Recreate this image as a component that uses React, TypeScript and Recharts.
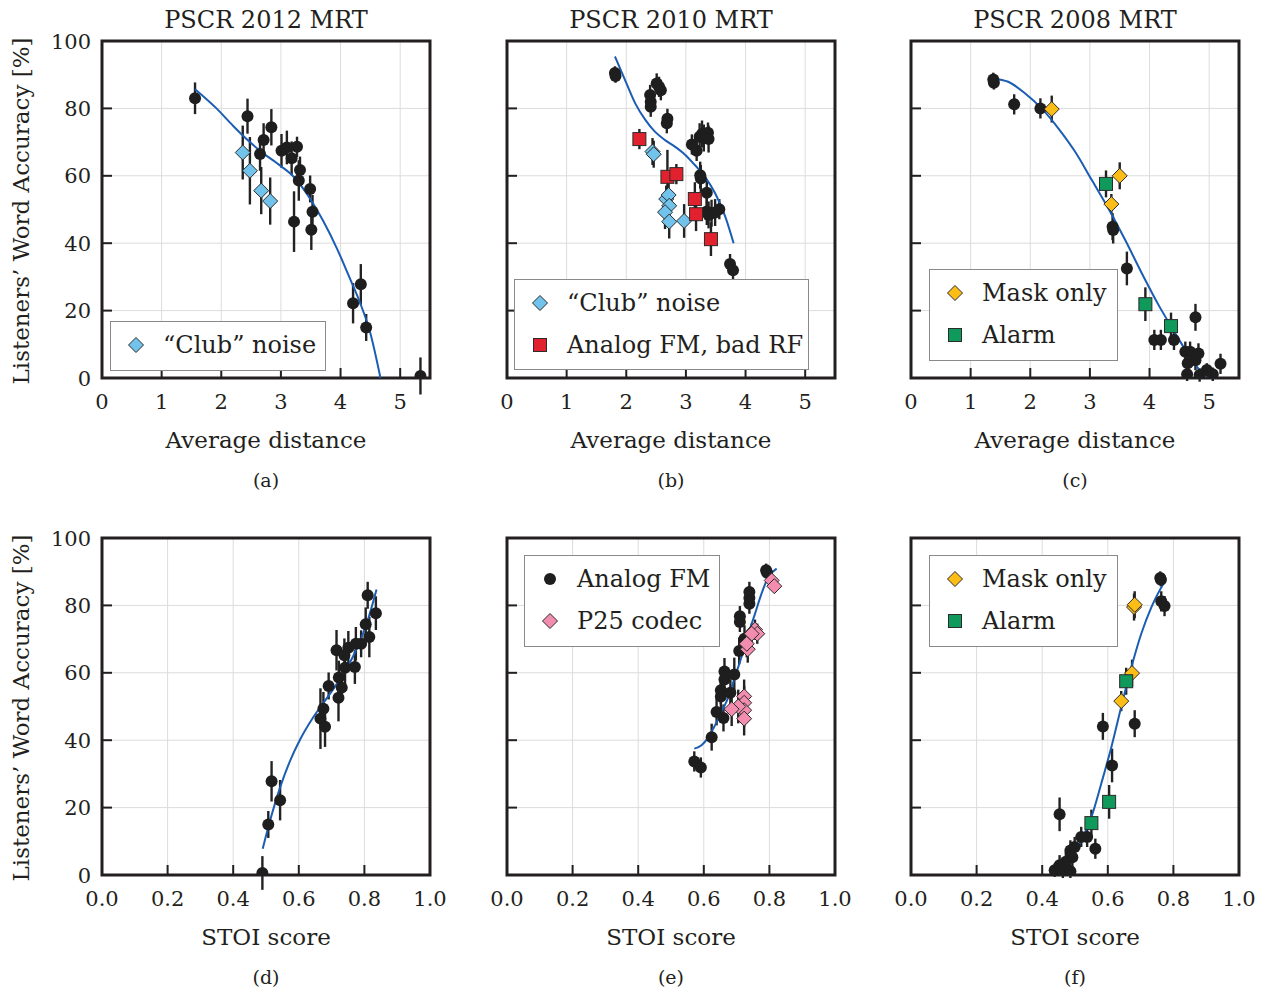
import React from "react";
import {
  CartesianGrid,
  ComposedChart,
  ErrorBar,
  Legend,
  Line,
  ReferenceArea,
  Scatter,
  XAxis,
  YAxis,
} from "recharts";

// [x, y, error half-length]
type Pt = [number, number, number];
type Fit = [number, number];

// (a) PSCR 2012 MRT, average distance
const aAnalog: Pt[] = [
  [1.56, 83.0, 4.7], [2.44, 77.7, 5.2], [2.84, 74.4, 5.4], [2.71, 70.6, 5.0],
  [2.65, 66.5, 5.0], [3.01, 67.4, 5.0], [3.1, 68.4, 5.0], [3.27, 68.6, 3.0],
  [3.18, 65.2, 5.0], [3.32, 61.7, 4.0], [3.3, 58.6, 6.0], [3.49, 56.1, 4.0],
  [3.53, 49.3, 5.0], [3.51, 44.0, 6.0], [3.22, 46.4, 9.0], [4.21, 22.2, 6.0],
  [4.34, 27.8, 6.0], [4.43, 15.0, 4.0], [5.34, 0.6, 5.5],
];
const aClub: Pt[] = [
  [2.36, 66.9, 8], [2.48, 61.5, 10], [2.67, 55.6, 7], [2.82, 52.5, 7],
];
const aFit: Fit[] = [
  [1.56, 85.7], [1.92, 80.0], [2.2, 74.8], [2.48, 70.0], [2.65, 67.4],
  [2.99, 63.0], [3.21, 59.8], [3.49, 53.2], [3.71, 46.6], [3.94, 38.4],
  [4.16, 29.4], [4.33, 22.2], [4.5, 13.3], [4.67, 0],
];

// (b) PSCR 2010 MRT, average distance
const bAnalog: Pt[] = [
  [1.81, 90.5, 2], [1.82, 89.6, 2], [2.51, 87.4, 3], [2.55, 86.4, 3],
  [2.58, 85.4, 3], [2.4, 84.0, 3], [2.41, 82.0, 3], [2.41, 80.5, 3],
  [2.69, 76.9, 3], [2.68, 75.6, 3], [3.1, 69.3, 3], [3.18, 67.4, 3],
  [3.23, 71.6, 4], [3.27, 72.4, 4], [3.37, 72.8, 3], [3.38, 70.9, 4],
  [3.3, 71.2, 4], [3.24, 60.2, 4], [3.25, 59.2, 4], [3.35, 55.0, 4],
  [3.35, 49.4, 4], [3.43, 48.9, 4], [3.49, 49.1, 4], [3.56, 50.1, 3],
  [3.38, 48.4, 4], [3.74, 33.8, 3], [3.79, 32.0, 3],
];
const bClub: Pt[] = [
  [2.44, 67.2, 4], [2.46, 66.4, 4], [2.67, 53.1, 4], [2.71, 54.3, 4],
  [2.72, 51.1, 5], [2.65, 49.2, 5], [2.72, 46.4, 5], [2.97, 46.6, 5],
];
const bBadRf: Pt[] = [
  [2.22, 70.9, 3], [2.69, 59.7, 8], [2.84, 60.5, 3], [3.15, 53.1, 5],
  [3.17, 48.6, 5], [3.42, 41.2, 5],
];
const bFit: Fit[] = [
  [1.81, 95.4], [1.98, 88.4], [2.15, 81.5], [2.32, 76.6], [2.48, 73.1],
  [2.65, 70.6], [2.82, 68.6], [2.99, 66.2], [3.15, 63.2], [3.32, 59.7],
  [3.49, 54.8], [3.66, 47.9], [3.8, 40.0],
];

// (c) PSCR 2008 MRT, average distance
const cAnalog: Pt[] = [
  [1.38, 88.6, 2], [1.39, 87.6, 2], [1.73, 81.2, 3], [2.17, 80.0, 3],
  [3.38, 44.9, 4], [3.39, 43.9, 4], [3.62, 32.5, 5], [4.08, 11.3, 3],
  [4.19, 11.3, 3], [4.41, 11.3, 3], [4.77, 18.0, 4], [4.6, 7.8, 3],
  [4.68, 7.8, 3], [4.82, 7.3, 3], [4.64, 4.4, 3], [4.77, 5.3, 3],
  [4.63, 1.1, 2], [4.84, 0.9, 2], [4.96, 2.4, 2], [5.06, 1.1, 2],
  [5.19, 4.2, 3],
];
const cMask: Pt[] = [[2.36, 79.8, 4], [3.5, 60.0, 4], [3.36, 51.6, 3]];
const cAlarm: Pt[] = [[3.27, 57.6, 4], [3.93, 21.9, 5], [4.36, 15.4, 4]];
const cFit: Fit[] = [
  [1.38, 88.9], [1.63, 87.9], [1.91, 84.5], [2.19, 80.0], [2.47, 74.1],
  [2.75, 67.2], [3.03, 58.8], [3.31, 50.3], [3.59, 41.0], [3.87, 31.1],
  [4.15, 21.7], [4.43, 13.3], [4.71, 5.3], [4.94, 0.2],
];

// (d) PSCR 2012 MRT, STOI
const dAnalog: Pt[] = [
  [0.489, 0.6, 5], [0.507, 15.0, 4], [0.517, 27.8, 6], [0.543, 22.2, 6],
  [0.666, 46.4, 9], [0.675, 49.3, 5], [0.68, 44.0, 6], [0.691, 56.1, 4],
  [0.715, 66.7, 6], [0.722, 58.6, 5], [0.721, 52.6, 7], [0.731, 55.6, 4],
  [0.739, 65.2, 5], [0.741, 61.5, 5], [0.751, 67.4, 5], [0.771, 61.7, 5],
  [0.774, 68.6, 5], [0.79, 68.6, 4], [0.804, 74.4, 5], [0.815, 70.6, 6],
  [0.81, 83.0, 4], [0.835, 77.7, 5],
];
const dFit: Fit[] = [
  [0.49, 7.8], [0.512, 16.0], [0.543, 26.0], [0.573, 33.8], [0.604, 40.2],
  [0.644, 46.8], [0.685, 52.4], [0.726, 58.2], [0.766, 65.0], [0.807, 74.6],
  [0.837, 84.7],
];

// (e) PSCR 2010 MRT, STOI
const eAnalog: Pt[] = [
  [0.571, 33.7, 3], [0.591, 31.9, 3], [0.624, 40.9, 4], [0.639, 48.4, 4],
  [0.66, 46.6, 4], [0.652, 53.0, 4], [0.652, 54.8, 4], [0.663, 58.0, 4],
  [0.663, 60.4, 4], [0.681, 54.1, 4], [0.693, 59.5, 5], [0.708, 66.5, 4],
  [0.724, 70.1, 4], [0.71, 76.8, 3], [0.71, 75.1, 3], [0.739, 80.5, 3],
  [0.739, 82.2, 3], [0.739, 84.0, 3], [0.79, 90.4, 2], [0.793, 89.7, 2],
];
const eP25: Pt[] = [
  [0.807, 87.4, 2], [0.815, 85.7, 2], [0.756, 72.8, 3], [0.763, 71.6, 3],
  [0.746, 71.6, 3], [0.734, 67.0, 4], [0.731, 68.6, 4], [0.723, 53.0, 5],
  [0.723, 51.1, 5], [0.723, 48.9, 5], [0.723, 46.4, 5], [0.705, 50.0, 5],
  [0.685, 49.2, 5],
];
const eFit: Fit[] = [
  [0.571, 37.5], [0.593, 38.5], [0.614, 40.9], [0.634, 44.4], [0.654, 48.4],
  [0.675, 52.8], [0.695, 58.8], [0.715, 64.7], [0.736, 71.6], [0.756, 77.5],
  [0.776, 83.5], [0.797, 88.4], [0.822, 90.9],
];

// (f) PSCR 2008 MRT, STOI
const fAnalog: Pt[] = [
  [0.76, 88.1, 2], [0.762, 87.6, 2], [0.763, 81.2, 3], [0.773, 79.8, 3],
  [0.682, 44.9, 4], [0.585, 44.1, 4], [0.613, 32.5, 5], [0.453, 18.0, 5],
  [0.562, 7.8, 3], [0.537, 11.3, 3], [0.519, 11.3, 3], [0.499, 8.3, 3],
  [0.486, 7.3, 3], [0.492, 5.3, 3], [0.472, 3.9, 3], [0.453, 2.9, 3],
  [0.438, 1.4, 2], [0.463, 1.1, 2], [0.486, 1.1, 2],
];
const fMask: Pt[] = [[0.68, 79.5, 4], [0.682, 80.2, 4], [0.674, 59.9, 4], [0.641, 51.6, 3]];
const fAlarm: Pt[] = [[0.656, 57.5, 4], [0.604, 21.7, 5], [0.55, 15.4, 4]];
const fFit: Fit[] = [
  [0.433, 1.4], [0.458, 2.4], [0.489, 5.3], [0.519, 10.3], [0.55, 17.2],
  [0.58, 27.1], [0.611, 38.0], [0.641, 49.9], [0.672, 61.7], [0.702, 71.6],
  [0.733, 79.5], [0.775, 87.4],
];

const distTicks = [0, 1, 2, 3, 4, 5];
const stoiTicks = [0, 0.2, 0.4, 0.6, 0.8, 1.0];
const accTicks = [0, 20, 40, 60, 80, 100];

const FONT = "'DejaVu Serif', serif";
const INK = "#231f20";
const FIT = "#1c5db4";

// plot box size and chart margins around it
const PW = 328;
const PH = 337;
const ML = 100;
const MT = 40;
const MR = 20;
const MB = 60;

type Kind = "dot" | "diamond" | "square";
type Series = { name: string; pts: Pt[]; kind: Kind; fill: string };

const BLACK = "#1e1e1e";
const CLUB = "#72c3ec";
const BADRF = "#e2212f";
const MASK = "#fbbd16";
const ALARM = "#0f9a5b";
const P25 = "#f28db0";

function Marker({ kind, fill, cx, cy }: { kind: Kind; fill: string; cx: number; cy: number }) {
  if (kind === "dot") return <circle cx={cx} cy={cy} r={6} fill={fill} />;
  if (kind === "square")
    return <rect x={cx - 6.5} y={cy - 6.5} width={13} height={13} fill={fill} stroke="#2b2b2b" strokeWidth={1} />;
  const d = 7.5;
  return (
    <polygon
      points={`${cx},${cy - d} ${cx + d},${cy} ${cx},${cy + d} ${cx - d},${cy}`}
      fill={fill}
      stroke="#2b2b2b"
      strokeWidth={1}
    />
  );
}

function LegendBox({ items, w, h }: { items: Series[]; w: number; h: number }) {
  return (
    <div
      style={{
        position: "relative",
        width: w,
        height: h,
        boxSizing: "border-box",
        border: "1.5px solid #8a8a8a",
        background: "#fff",
      }}
    >
      {items.map((it, i) => (
        <div
          key={it.name}
          style={{ position: "absolute", left: 0, top: 24 + i * 42 - 17, height: 32, display: "flex", alignItems: "center" }}
        >
          <svg width={50} height={32}>
            <Marker kind={it.kind} fill={it.fill} cx={25} cy={16} />
          </svg>
          <span style={{ fontFamily: FONT, fontSize: 24, color: INK, whiteSpace: "nowrap", marginLeft: 2 }}>{it.name}</span>
        </div>
      ))}
    </div>
  );
}

function Text({ x, base, size, children }: { x: number; base: number; size: number; children: React.ReactNode }) {
  return (
    <div
      style={{
        position: "absolute",
        left: x,
        top: base - 0.846 * size,
        transform: "translateX(-50%)",
        fontFamily: FONT,
        fontSize: size,
        lineHeight: 1,
        color: INK,
        whiteSpace: "nowrap",
      }}
    >
      {children}
    </div>
  );
}

type PanelProps = {
  left: number;
  top: number;
  xMax: number;
  xTicks: number[];
  fmt: (v: number) => string;
  series: Series[];
  fit: Fit[];
  legend?: { x: number; y: number; w: number; h: number; items: Series[] };
  title?: string;
  xLabel: string;
  tag: string;
  yLabels: boolean;
};

function Panel({ left, top, xMax, xTicks, fmt, series, fit, legend, title, xLabel, tag, yLabels }: PanelProps) {
  const cx = left + PW / 2;
  const bottom = top + PH;
  return (
    <>
      <div style={{ position: "absolute", left: left - ML, top: top - MT }}>
        <ComposedChart width={ML + PW + MR} height={MT + PH + MB} margin={{ top: MT, right: MR, bottom: 0, left: 0 }}>
          <CartesianGrid stroke="#dcdcdc" strokeWidth={1} />
          <XAxis
            type="number"
            dataKey="x"
            domain={[0, xMax]}
            ticks={xTicks}
            interval={0}
            height={MB}
            tickSize={0}
            tickMargin={0}
            axisLine={false}
            tickLine={false}
            allowDataOverflow
            tick={(p: any) => (
              <g>
                <line x1={p.x} y1={p.y} x2={p.x} y2={p.y - 10} stroke={INK} strokeWidth={2} />
                <text x={p.x} y={p.y + 31} textAnchor="middle" fontFamily={FONT} fontSize={21} fill={INK}>
                  {fmt(p.payload.value)}
                </text>
              </g>
            )}
          />
          <XAxis
            xAxisId="t"
            orientation="top"
            type="number"
            domain={[0, xMax]}
            ticks={xTicks}
            interval={0}
            height={0}
            tickSize={0}
            tickMargin={0}
            axisLine={false}
            tickLine={false}
            tick={(p: any) => <line x1={p.x} y1={p.y} x2={p.x} y2={p.y + 10} stroke={INK} strokeWidth={2} />}
          />
          <YAxis
            type="number"
            dataKey="y"
            domain={[0, 100]}
            ticks={accTicks}
            interval={0}
            width={ML}
            tickSize={0}
            tickMargin={0}
            axisLine={false}
            tickLine={false}
            allowDataOverflow
            tick={(p: any) => (
              <g>
                <line x1={p.x} y1={p.y} x2={p.x + 10} y2={p.y} stroke={INK} strokeWidth={2} />
                {yLabels && (
                  <text x={p.x - 11} y={p.y + 7.5} textAnchor="end" fontFamily={FONT} fontSize={21} fill={INK}>
                    {p.payload.value}
                  </text>
                )}
              </g>
            )}
          />
          <YAxis
            yAxisId="r"
            orientation="right"
            type="number"
            domain={[0, 100]}
            ticks={accTicks}
            interval={0}
            width={0}
            tickSize={0}
            tickMargin={0}
            axisLine={false}
            tickLine={false}
            tick={(p: any) => <line x1={p.x} y1={p.y} x2={p.x - 10} y2={p.y} stroke={INK} strokeWidth={2} />}
          />
          {series.map((s) => (
            <Scatter
              key={s.name}
              name={s.name}
              data={s.pts.map(([x, y, e]) => ({ x, y, e }))}
              isAnimationActive={false}
              shape={(p: any) => <Marker kind={s.kind} fill={s.fill} cx={p.cx} cy={p.cy} />}
            >
              <ErrorBar dataKey="e" direction="y" width={0} stroke="#222" strokeWidth={2.4} />
            </Scatter>
          ))}
          <Line
            data={fit.map(([x, y]) => ({ x, y }))}
            dataKey="y"
            type="monotone"
            stroke={FIT}
            strokeWidth={2}
            dot={false}
            activeDot={false}
            isAnimationActive={false}
          />
          <ReferenceArea x1={0} x2={xMax} y1={0} y2={100} fill="none" stroke={INK} strokeWidth={3} />
          {legend && (
            <Legend
              layout="horizontal"
              verticalAlign="middle"
              align="center"
              wrapperStyle={{ left: legend.x - (left - ML), top: legend.y - (top - MT), width: legend.w, height: legend.h }}
              content={() => <LegendBox items={legend.items} w={legend.w} h={legend.h} />}
            />
          )}
        </ComposedChart>
      </div>
      {title && (
        <Text x={cx} base={top - 13} size={24}>
          {title}
        </Text>
      )}
      <Text x={cx} base={bottom + 70} size={23}>
        {xLabel}
      </Text>
      <Text x={cx} base={bottom + 109} size={19}>
        {tag}
      </Text>
    </>
  );
}

function YTitle({ cy }: { cy: number }) {
  return (
    <div
      style={{
        position: "absolute",
        left: 21,
        top: cy,
        transform: "translate(-50%, -50%) rotate(-90deg)",
        fontFamily: FONT,
        fontSize: 23,
        lineHeight: 1,
        color: INK,
        whiteSpace: "nowrap",
      }}
    >
      Listeners’ Word Accuracy [%]
    </div>
  );
}

const intFmt = (v: number) => String(v);
const decFmt = (v: number) => v.toFixed(1);

export default function App() {
  const analog = (pts: Pt[]): Series => ({ name: "Analog FM", pts, kind: "dot", fill: BLACK });
  const club = (pts: Pt[]): Series => ({ name: "“Club” noise", pts, kind: "diamond", fill: CLUB });
  const badRf = (pts: Pt[]): Series => ({ name: "Analog FM, bad RF", pts, kind: "square", fill: BADRF });
  const mask = (pts: Pt[]): Series => ({ name: "Mask only", pts, kind: "diamond", fill: MASK });
  const alarm = (pts: Pt[]): Series => ({ name: "Alarm", pts, kind: "square", fill: ALARM });
  const p25 = (pts: Pt[]): Series => ({ name: "P25 codec", pts, kind: "diamond", fill: P25 });

  const top1 = 41;
  const top2 = 538;

  return (
    <div style={{ position: "absolute", left: 0, top: 0, width: 1267, height: 994, background: "#fff", overflow: "hidden" }}>
      <YTitle cy={211} />
      <YTitle cy={708} />

      <Panel
        left={102} top={top1} xMax={5.5} xTicks={distTicks} fmt={intFmt}
        series={[analog(aAnalog), club(aClub)]} fit={aFit}
        legend={{ x: 110, y: 321, w: 216, h: 50, items: [club(aClub)] }}
        title="PSCR 2012 MRT" xLabel="Average distance" tag="(a)" yLabels
      />
      <Panel
        left={507} top={top1} xMax={5.5} xTicks={distTicks} fmt={intFmt}
        series={[analog(bAnalog), club(bClub), badRf(bBadRf)]} fit={bFit}
        legend={{ x: 514, y: 279, w: 295, h: 91, items: [club(bClub), badRf(bBadRf)] }}
        title="PSCR 2010 MRT" xLabel="Average distance" tag="(b)" yLabels={false}
      />
      <Panel
        left={911} top={top1} xMax={5.5} xTicks={distTicks} fmt={intFmt}
        series={[analog(cAnalog), mask(cMask), alarm(cAlarm)]} fit={cFit}
        legend={{ x: 929, y: 269, w: 189, h: 92, items: [mask(cMask), alarm(cAlarm)] }}
        title="PSCR 2008 MRT" xLabel="Average distance" tag="(c)" yLabels={false}
      />
      <Panel
        left={102} top={top2} xMax={1} xTicks={stoiTicks} fmt={decFmt}
        series={[analog(dAnalog)]} fit={dFit}
        xLabel="STOI score" tag="(d)" yLabels
      />
      <Panel
        left={507} top={top2} xMax={1} xTicks={stoiTicks} fmt={decFmt}
        series={[analog(eAnalog), p25(eP25)]} fit={eFit}
        legend={{ x: 524, y: 555, w: 196, h: 92, items: [analog(eAnalog), p25(eP25)] }}
        xLabel="STOI score" tag="(e)" yLabels={false}
      />
      <Panel
        left={911} top={top2} xMax={1} xTicks={stoiTicks} fmt={decFmt}
        series={[analog(fAnalog), mask(fMask), alarm(fAlarm)]} fit={fFit}
        legend={{ x: 929, y: 555, w: 189, h: 92, items: [mask(fMask), alarm(fAlarm)] }}
        xLabel="STOI score" tag="(f)" yLabels={false}
      />
    </div>
  );
}
